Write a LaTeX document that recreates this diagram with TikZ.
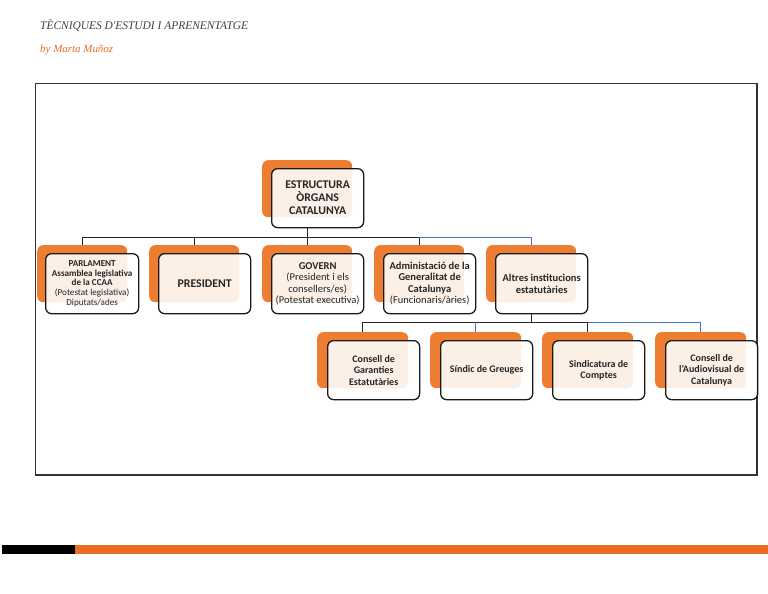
\documentclass[tikz,border=0pt]{standalone}
\usepackage{fontspec}
\setmainfont{Carlito}
\newfontfamily\titlefont{Liberation Serif}
\usetikzlibrary{positioning}
\definecolor{orng}{HTML}{ED7D31}
\definecolor{barorng}{HTML}{E96D23}
\definecolor{lnblue}{HTML}{4472C4}
\definecolor{txt}{HTML}{262626}
\definecolor{ttl}{HTML}{404040}
\begin{document}
\begin{tikzpicture}[x=1pt,y=-1pt,
  obox/.style={fill=orng, rounded corners=6pt, minimum width=90pt, minimum height=57pt, anchor=north west, inner sep=0pt},
  obox3/.style={obox, minimum width=91pt, minimum height=56pt},
  wbox/.style={draw=black!90, line width=1.3pt, fill=white, fill opacity=0.88, text opacity=1, rounded corners=6pt, minimum width=92pt, minimum height=60pt, anchor=north west, inner sep=1pt, align=center, text=txt},
  wbox3/.style={wbox, minimum height=59pt},
  fbig/.style={font=\fontsize{11.8}{13}\selectfont\bfseries},
  fmid/.style={font=\fontsize{10.5}{11.5}\selectfont},
  fsmall/.style={font=\fontsize{9.1}{9.6}\selectfont},
  f3/.style={font=\fontsize{10}{11.5}\selectfont\bfseries},
  conn/.style={draw=black!85, line width=1pt},
  connb/.style={draw=lnblue, line width=1pt}]
\useasboundingbox (0,0) rectangle (768,594);

% header
\node[anchor=base west, inner sep=0pt, text=ttl] (title) at (40,30) {\resizebox{208pt}{10pt}{\titlefont\itshape TÈCNIQUES D'ESTUDI I APRENENTATGE}};
\node[anchor=base west, inner sep=0pt, text=barorng] (author) at (40,52.5) {\resizebox{73pt}{7.5pt}{\titlefont\itshape by Marta Muñoz}};

% frame
\draw[line width=1.2pt, black!80] (35.5,83.5) rectangle (757,475);

% top
\node[obox] (o0) at (262,160) {};
\node[wbox, minimum height=59pt, fbig] (w0) at (271,168) {ESTRUCTURA\\ÒRGANS\\CATALUNYA};

% row 2
\node[obox] (o1) at (37,245) {};
\node[obox] (o2) at (149,245) {};
\node[obox] (o3) at (262,245) {};
\node[obox] (o4) at (374,245) {};
\node[obox] (o5) at (486,245) {};

\node[wbox, minimum width=93pt, fsmall] (w1) at (45,253) {\textbf{PARLAMENT}\\\textbf{Assamblea legislativa}\\\textbf{de la CCAA}\\(Potestat legislativa)\\Diputats/ades};
\node[wbox, fbig] (w2) at (158,253) {PRESIDENT};
\node[wbox, fmid] (w3) at (271,253) {\textbf{GOVERN}\\(President i els\\consellers/es)\\(Potestat executiva)};
\node[wbox, fmid] (w4) at (383,253) {\textbf{Administació de la}\\\textbf{Generalitat de}\\\textbf{Catalunya}\\(Funcionaris/àries)};
\node[wbox, fmid, font=\fontsize{10.5}{11.5}\selectfont\bfseries] (w5) at (495,253) {Altres institucions\\estatutàries};

% row 3
\node[obox3] (p1) at (317,332) {};
\node[obox3] (p2) at (430,332) {};
\node[obox3] (p3) at (542,332) {};
\node[obox3] (p4) at (655,332) {};

\node[wbox3, f3] (q1) at (327,340) {Consell de\\Garanties\\Estatutàries};
\node[wbox3, f3] (q2) at (440,340) {Síndic de Greuges};
\node[wbox3, f3] (q3) at (552,340) {Sindicatura de\\Comptes};
\node[wbox3, f3] (q4) at (665,340) {Consell de\\l'Audiovisual de\\Catalunya};

% connectors level 1
\path (o0.south) ++(0,20) coordinate (bus1);
\draw[conn] (o0.south |- w0.south) -- (bus1);
\foreach \i in {1,...,4} \draw[conn] (bus1) -| (o\i.north);
\draw[connb] (o4.north |- bus1) -| (o5.north);

% connectors level 2
\path (o5.south) ++(0,20) coordinate (bus2);
\draw[conn] (o5.south |- w5.south) -- (bus2);
\draw[conn] (bus2) -| (p1.north);
\draw[conn] (bus2) -| (p3.north);
\draw[connb] (p2.north |- bus2) -- (p2.north);
\draw[connb] (p3.north |- bus2) -| (p4.north);

% bottom bar
\fill[black] (2,545) rectangle (75,554);
\fill[barorng] (75,545) rectangle (768,554);
\end{tikzpicture}
\end{document}
